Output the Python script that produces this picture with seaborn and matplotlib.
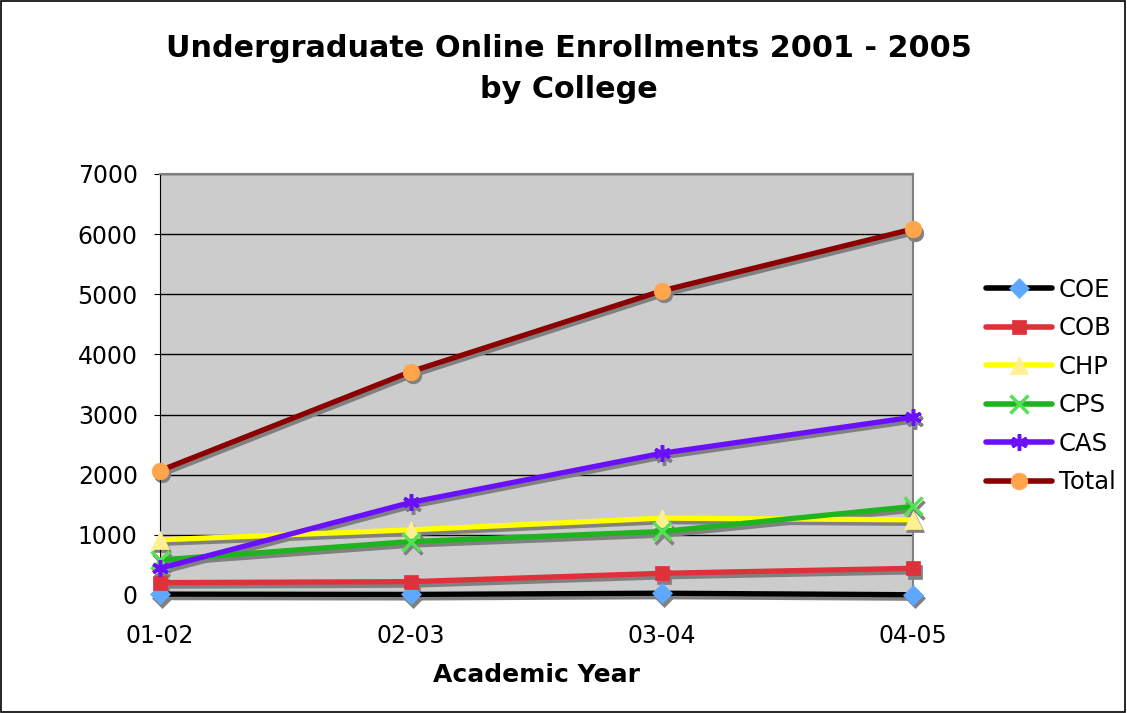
import matplotlib
matplotlib.use("Agg")
import matplotlib.pyplot as plt
from matplotlib.lines import Line2D
import matplotlib.transforms as mtrans
import seaborn as sns
import pandas as pd

years = ["01-02", "02-03", "03-04", "04-05"]
COE = [15, 10, 30, 5]
COB = [206, 222, 361, 444]
CHP = [917, 1083, 1278, 1250]
CPS = [583, 889, 1056, 1472]
CAS = [444, 1540, 2357, 2957]
Total = [2068, 3715, 5058, 6085]

series = {"COE": COE, "COB": COB, "CHP": CHP, "CPS": CPS, "CAS": CAS, "Total": Total}
rows = []
for name, vals in series.items():
    for i, (yr, v) in enumerate(zip(years, vals)):
        rows.append({"year": yr, "idx": i, "college": name, "value": v})
df = pd.DataFrame(rows)

styles = {
    "COE": dict(line="#000000", marker="D", face="#5FA8FF", ms=10, mew=0.5),
    "COB": dict(line="#E0303A", marker="s", face="#E0303A", ms=10, mew=0.5),
    "CHP": dict(line="#FFFF00", marker="^", face="#FFF090", ms=13, mew=0.5),
    "CPS": dict(line="#1EB41E", marker="x", face="#55E055", ms=13, mew=2.5),
    "CAS": dict(line="#6A10FF", marker=(6, 2, 0), face="#6A10FF", ms=12, mew=2.5),
    "Total": dict(line="#8B0000", marker="o", face="#FFA64D", ms=12, mew=0.5),
}

sns.set_style("white")
plt.rcParams["font.family"] = ["DejaVu Sans"]
plt.rcParams["text.color"] = "black"
plt.rcParams["axes.labelcolor"] = "black"
plt.rcParams["xtick.color"] = "black"
plt.rcParams["ytick.color"] = "black"

fig = plt.figure(figsize=(11.27, 7.13), dpi=100)
ax = fig.add_axes([0.142, 0.1655, 0.668, 0.5905])
ax.set_facecolor("#CCCCCC")

shadow_tr = mtrans.offset_copy(ax.transData, fig=fig, x=2, y=-3.5, units="dots")

handles = []
for name in series:
    st = styles[name]
    sub = df[df["college"] == name]
    # shadow
    n0 = len(ax.lines)
    sns.lineplot(data=sub, x="idx", y="value", ax=ax, color="#808080", linewidth=3.8,
                 legend=False, errorbar=None)
    sh = ax.lines[n0]
    sh.set_transform(shadow_tr)
    sh.set_marker(st["marker"])
    sh.set_markersize(st["ms"])
    sh.set_markerfacecolor("#808080")
    sh.set_markeredgecolor("#808080")
    sh.set_markeredgewidth(st["mew"])
    sh.set_clip_on(False)
    sh.set_zorder(2)
    # main line
    n1 = len(ax.lines)
    sns.lineplot(data=sub, x="idx", y="value", ax=ax, color=st["line"], linewidth=3.8,
                 legend=False, errorbar=None)
    ln = ax.lines[n1]
    ln.set_marker(st["marker"])
    ln.set_markersize(st["ms"])
    ln.set_markerfacecolor(st["face"])
    ln.set_markeredgecolor(st["face"])
    ln.set_markeredgewidth(st["mew"])
    ln.set_clip_on(False)
    ln.set_zorder(3)
    handles.append(Line2D([0], [0], color=st["line"], linewidth=4, marker=st["marker"],
                          markersize=st["ms"], markerfacecolor=st["face"],
                          markeredgecolor=st["face"], markeredgewidth=st["mew"],
                          label=name))

ax.set_xlim(0, 3)
ax.set_ylim(0, 7000)
ax.set_xticks(range(len(years)))
ax.set_xticklabels(years, fontsize=17)
ax.set_yticks(range(0, 7001, 1000))
ax.set_yticklabels([str(v) for v in range(0, 7001, 1000)], fontsize=17)
ax.yaxis.grid(True, color="black", linewidth=1)
ax.xaxis.grid(False)
ax.set_axisbelow(True)
ax.tick_params(axis="y", length=4, color="black", left=True, pad=12)
ax.tick_params(axis="x", length=0, pad=21)
for s in ["top", "right"]:
    ax.spines[s].set_color("#808080")
    ax.spines[s].set_linewidth(1.5)
ax.spines["left"].set_color("black")
ax.spines["bottom"].set_visible(False)
ax.set_xlabel("Academic Year", fontsize=18, fontweight="bold", labelpad=11)
ax.set_ylabel("")

fig.text(0.505, 0.903, "Undergraduate Online Enrollments 2001 - 2005\nby College",
         ha="center", va="center", fontsize=21.8, fontweight="bold", linespacing=1.5)

fig.legend(handles=handles, loc="center left", bbox_to_anchor=(0.875, 0.4586),
           frameon=False, fontsize=17.5, handlelength=2.7, labelspacing=0.6,
           handletextpad=0.3, borderaxespad=0, borderpad=0)

border = plt.Rectangle((0.001, 0.001), 0.997, 0.997, transform=fig.transFigure,
                       fill=False, edgecolor="black", linewidth=1.2)
fig.patches.append(border)

fig.savefig("out.png", dpi=100)
